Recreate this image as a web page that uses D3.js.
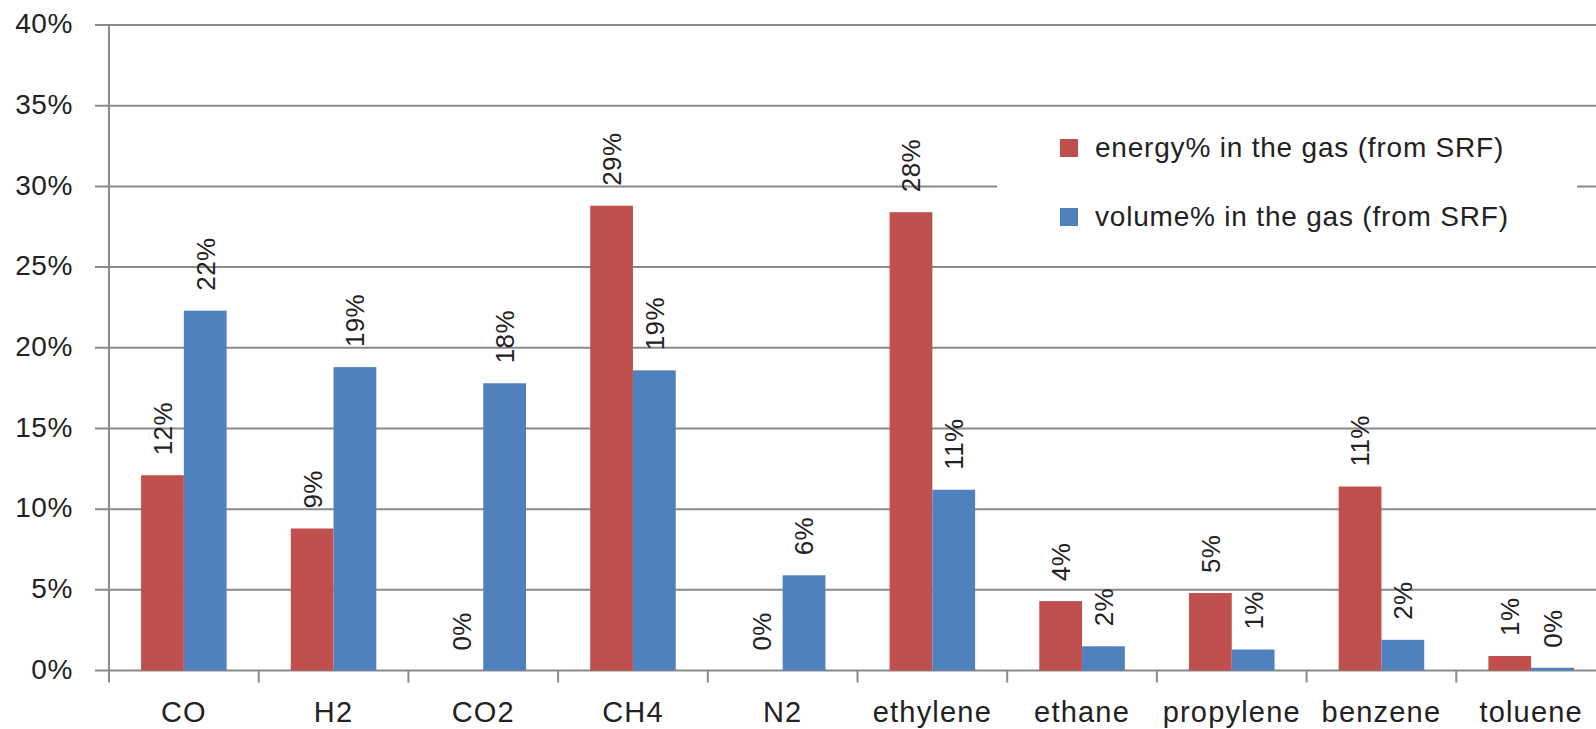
<!DOCTYPE html>
<html>
<head>
<meta charset="utf-8">
<script src="https://cdn.jsdelivr.net/npm/d3@7"></script>
<style>
  html, body { margin: 0; padding: 0; background: #ffffff; overflow: hidden; }
  svg { display: block; }
</style>
</head>
<body>
<svg id="chart" width="1596" height="729"></svg>
<script>
// Gas composition: share of energy and of volume per component
const categories = ["CO", "H2", "CO2", "CH4", "N2", "ethylene", "ethane", "propylene", "benzene", "toluene"];
const energyPct = [12.1, 8.8, 0, 28.8, 0, 28.4, 4.3, 4.8, 11.4, 0.9];
const volumePct = [22.3, 18.8, 17.8, 18.6, 5.9, 11.2, 1.5, 1.3, 1.9, 0.17];
const seriesNames = ["energy% in the gas (from SRF)", "volume% in the gas (from SRF)"];
const seriesColors = ["#C0504D", "#4F81BD"];
const yTicks = [0, 5, 10, 15, 20, 25, 30, 35, 40];

const svg = d3.select("#chart");
const gridColor = "#8a8a8a";

const plot = { left: 109, right: 1606, top: 25, bottom: 670.5 };

const x = d3.scaleBand()
  .domain(categories)
  .range([plot.left, plot.right])
  .paddingInner(0)
  .paddingOuter(0);

const xSub = d3.scaleBand()
  .domain([0, 1])
  .range([0, x.bandwidth()])
  .paddingInner(0)
  .paddingOuter(0.75);

const y = d3.scaleLinear().domain([0, 40]).range([plot.bottom, plot.top]);

// Horizontal gridlines (also forming the left tick marks)
svg.append("g")
  .selectAll("line")
  .data(yTicks)
  .join("line")
  .attr("x1", plot.left - 14)
  .attr("x2", plot.right)
  .attr("y1", d => y(d))
  .attr("y2", d => y(d))
  .attr("stroke", gridColor)
  .attr("stroke-width", 2);

// Y axis labels
const yAxis = d3.axisLeft(y)
  .tickValues(yTicks)
  .tickFormat(d => d + "%")
  .tickSize(0)
  .tickPadding(36);

const yg = svg.append("g")
  .attr("transform", `translate(${plot.left},0)`)
  .call(yAxis);
yg.select(".domain").remove();
yg.selectAll("text")
  .attr("dy", "0.28em")
  .attr("fill", "#222222")
  .style("font-family", "'Liberation Sans', Arial, sans-serif")
  .style("font-size", "28px")
  .style("letter-spacing", "0.6px");

// Vertical axis line
svg.append("line")
  .attr("x1", plot.left).attr("x2", plot.left)
  .attr("y1", plot.top).attr("y2", plot.bottom + 12)
  .attr("stroke", gridColor)
  .attr("stroke-width", 2);

// Category tick marks below the baseline
svg.append("g")
  .selectAll("line")
  .data(categories.slice(1).concat(["__end"]))
  .join("line")
  .attr("x1", (d, i) => x(categories[0]) + (i + 1) * x.step())
  .attr("x2", (d, i) => x(categories[0]) + (i + 1) * x.step())
  .attr("y1", plot.bottom)
  .attr("y2", plot.bottom + 12)
  .attr("stroke", gridColor)
  .attr("stroke-width", 2);

// Category labels
svg.append("g")
  .selectAll("text")
  .data(categories)
  .join("text")
  .attr("x", d => x(d) + x.bandwidth() / 2)
  .attr("y", 722)
  .attr("text-anchor", "middle")
  .attr("fill", "#222222")
  .style("font-family", "'Liberation Sans', Arial, sans-serif")
  .style("font-size", "29px")
  .style("letter-spacing", "1.2px")
  .text(d => d);

// Legend (white panel over the gridlines)
svg.append("rect")
  .attr("x", 997).attr("y", 110)
  .attr("width", 580).attr("height", 140)
  .attr("fill", "#ffffff");

const legendRows = [148, 217];
const legend = svg.append("g");
seriesNames.forEach((name, i) => {
  legend.append("rect")
    .attr("x", 1060).attr("y", legendRows[i] - 9)
    .attr("width", 18).attr("height", 18)
    .attr("fill", seriesColors[i]);
  legend.append("text")
    .attr("x", 1095).attr("y", legendRows[i] + 9)
    .attr("fill", "#222222")
    .style("font-family", "'Liberation Sans', Arial, sans-serif")
    .style("font-size", "28px")
    .style("letter-spacing", "0.8px")
    .text(name);
});

// Bars and rotated value labels
const rows = categories.map((c, i) => ({ cat: c, vals: [energyPct[i], volumePct[i]] }));

const groups = svg.append("g")
  .selectAll("g")
  .data(rows)
  .join("g")
  .attr("transform", d => `translate(${x(d.cat)},0)`);

groups.selectAll("rect")
  .data(d => d.vals.map((v, k) => ({ v, k })))
  .join("rect")
  .attr("x", d => xSub(d.k))
  .attr("width", xSub.bandwidth())
  .attr("y", d => y(d.v))
  .attr("height", d => y(0) - y(d.v))
  .attr("fill", d => seriesColors[d.k]);

groups.selectAll("text")
  .data(d => d.vals.map((v, k) => ({ v, k })))
  .join("text")
  .attr("transform", d => `translate(${xSub(d.k) + xSub.bandwidth() / 2},${y(d.v) - 20}) rotate(-90)`)
  .attr("dy", "0.36em")
  .attr("text-anchor", "start")
  .attr("fill", "#222222")
  .style("font-family", "'Liberation Sans', Arial, sans-serif")
  .style("font-size", "26px")
  .style("letter-spacing", "0.4px")
  .text(d => Math.round(d.v) + "%");
</script>
</body>
</html>
